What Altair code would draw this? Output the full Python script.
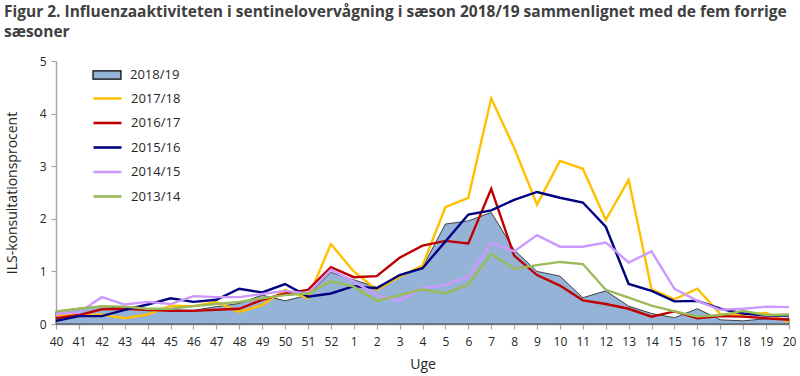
import altair as alt
import pandas as pd

weeks = ["40", "41", "42", "43", "44", "45", "46", "47", "48", "49", "50", "51", "52",
         "1", "2", "3", "4", "5", "6", "7", "8", "9", "10", "11", "12", "13", "14", "15",
         "16", "17", "18", "19", "20"]

s1819 = [0.24, 0.30, 0.34, 0.30, 0.25, 0.27, 0.26, 0.33, 0.39, 0.55, 0.44, 0.55, 0.98,
         0.84, 0.70, 0.93, 1.08, 1.90, 1.96, 2.12, 1.41, 1.00, 0.91, 0.50, 0.63, 0.34,
         0.20, 0.12, 0.29, 0.08, 0.06, 0.10, 0.11]
s1718 = [0.17, 0.16, 0.18, 0.11, 0.18, 0.35, 0.34, 0.42, 0.23, 0.36, 0.65, 0.49, 1.52,
         1.00, 0.65, 0.90, 1.11, 2.22, 2.40, 4.29, 3.35, 2.27, 3.10, 2.95, 1.98, 2.74,
         0.66, 0.47, 0.67, 0.19, 0.18, 0.21, 0.04]
s1617 = [0.11, 0.17, 0.28, 0.29, 0.27, 0.25, 0.25, 0.27, 0.29, 0.46, 0.58, 0.65, 1.08,
         0.89, 0.91, 1.26, 1.49, 1.58, 1.53, 2.57, 1.30, 0.93, 0.73, 0.45, 0.38, 0.29,
         0.14, 0.24, 0.11, 0.15, 0.14, 0.11, 0.08]
s1516 = [0.06, 0.15, 0.15, 0.27, 0.37, 0.49, 0.42, 0.46, 0.67, 0.60, 0.76, 0.52, 0.58,
         0.72, 0.68, 0.93, 1.06, 1.57, 2.08, 2.16, 2.36, 2.51, 2.40, 2.31, 1.85, 0.76,
         0.63, 0.43, 0.44, 0.29, 0.20, 0.16, 0.16]
s1415 = [0.19, 0.22, 0.51, 0.37, 0.42, 0.38, 0.53, 0.51, 0.51, 0.57, 0.63, 0.58, 1.03,
         0.81, 0.55, 0.44, 0.68, 0.74, 0.90, 1.54, 1.38, 1.69, 1.47, 1.47, 1.55, 1.17,
         1.38, 0.67, 0.44, 0.27, 0.29, 0.33, 0.32]
s1314 = [0.24, 0.29, 0.34, 0.33, 0.29, 0.29, 0.34, 0.38, 0.42, 0.49, 0.55, 0.58, 0.81,
         0.71, 0.44, 0.55, 0.66, 0.58, 0.75, 1.33, 1.05, 1.12, 1.18, 1.14, 0.65, 0.50,
         0.35, 0.24, 0.14, 0.17, 0.25, 0.17, 0.18]

line_seasons = ["2017/18", "2016/17", "2015/16", "2014/15", "2013/14"]
line_values = [s1718, s1617, s1516, s1415, s1314]
line_colors = ["#FFC000", "#C00000", "#000080", "#CC99FF", "#9BBB59"]

area_df = pd.DataFrame({"uge": weeks, "value": s1819, "season": "2018/19"})
rows = []
for season, vals in zip(line_seasons, line_values):
    for i, (w, v) in enumerate(zip(weeks, vals)):
        rows.append({"uge": w, "value": v, "season": season, "order": i})
line_df = pd.DataFrame(rows)

FONT = "Open Sans"
TXT = "#262626"
AX = "#A6A6A6"

x_enc = alt.X("uge:N", sort=weeks,
              scale=alt.Scale(type="point", domain=weeks, padding=0),
              axis=alt.Axis(title="Uge", labelAngle=0, grid=False))
y_enc = alt.Y("value:Q", scale=alt.Scale(domain=[0, 5], nice=False),
              axis=alt.Axis(title="ILS-konsultationsprocent", values=[0, 1, 2, 3, 4, 5],
                            grid=False))

area = alt.Chart(area_df).mark_area(stroke="#1a1a1a", strokeWidth=0.8, opacity=1,
                                    interpolate="linear").encode(
    x=x_enc, y=y_enc,
    fill=alt.Fill("season:N", scale=alt.Scale(domain=["2018/19"], range=["#95B3D7"]),
                  legend=alt.Legend(title=None, orient="none", legendX=40, legendY=3,
                                    symbolType="M-1.4,-0.42H1.4V0.42H-1.4Z", symbolSize=400,
                                    symbolStrokeColor="#000000", symbolStrokeWidth=1.2,
                                    symbolOpacity=1, labelOffset=12)),
)

lines = alt.Chart(line_df).mark_line(strokeWidth=2.4).encode(
    x=x_enc, y=y_enc,
    stroke=alt.Stroke("season:N", scale=alt.Scale(domain=line_seasons, range=line_colors),
                      legend=alt.Legend(title=None, orient="none", legendX=40, legendY=26,
                                        symbolType="M-1.4,0H1.4", symbolSize=400,
                                        symbolStrokeWidth=2.6, rowPadding=5.5,
                                        labelOffset=12)),
    order="order:Q",
)

chart = alt.layer(area, lines).properties(
    width=733, height=263,
    autosize=alt.AutoSizeParams(type="none"),
    padding={"left": 56, "top": 61, "right": 11, "bottom": 52},
    title=alt.TitleParams(
        text=["Figur 2. Influenzaaktiviteten i sentinelovervågning i sæson 2018/19 sammenlignet med de fem forrige",
              "sæsoner"],
        anchor="start", frame="group", dx=-52, offset=15,
        font="Open Sans", fontSize=15.5, fontWeight="bold", color="#404040", lineHeight=20),
).resolve_scale(fill="independent", stroke="independent").configure_view(
    stroke=None
).configure_axis(
    labelFont=FONT, labelFontSize=12, labelColor=TXT,
    titleFont=FONT, titleFontSize=14, titleFontWeight="normal", titleColor=TXT,
    domainColor=AX, domainWidth=1.5, tickColor=AX, tickWidth=1.2, tickSize=5,
).configure_axisX(
    labelPadding=7, titlePadding=10
).configure_axisY(
    labelPadding=5, titlePadding=20
).configure_legend(
    labelFont=FONT, labelFontSize=13, labelColor=TXT
)

chart.save("out.html", embed_options={"renderer": "svg", "actions": False})
